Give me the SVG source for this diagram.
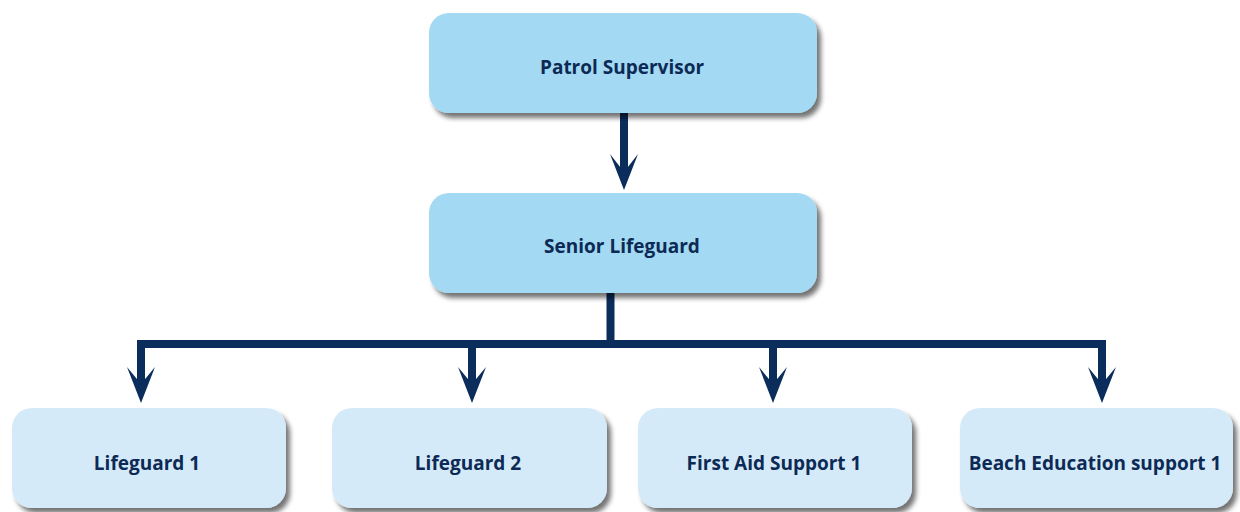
<svg xmlns="http://www.w3.org/2000/svg" width="1240" height="512" viewBox="0 0 1240 512">
<defs>
<filter id="sh" x="-10%" y="-20%" width="125%" height="150%">
<feGaussianBlur in="SourceAlpha" stdDeviation="2.5"/>
<feOffset dx="4" dy="5" result="b"/>
<feComponentTransfer><feFuncA type="linear" slope="0.55"/></feComponentTransfer>
<feMerge><feMergeNode/><feMergeNode in="SourceGraphic"/></feMerge>
</filter>
</defs>
<style>
.top{fill:#a3d9f2;filter:url(#sh)}
.bot{fill:#d5eaf8;filter:url(#sh)}
.t{font-family:"Open Sans","Noto Sans",sans-serif;font-weight:bold;font-size:19px;fill:#0c2a55;text-anchor:middle}
.ln{stroke:#0b2d5c;stroke-width:8;fill:none}
.ah{fill:#0b2d5c}
</style>
<rect width="1240" height="512" fill="#ffffff"/>
<g id="connectors">
<line class="ln" x1="624" y1="113" x2="624" y2="172"/>
<polygon class="ah" points="624,190 610,154 624,172 638,154"/>
<line class="ln" x1="610.5" y1="293" x2="610.5" y2="344"/>
<polyline class="ln" points="141,384 141,344 1102,344 1102,384"/>
<line class="ln" x1="472" y1="344" x2="472" y2="384"/>
<line class="ln" x1="773" y1="344" x2="773" y2="384"/>
<polygon class="ah" points="141,403 127,367 141,384 155,367"/>
<polygon class="ah" points="472,403 458,367 472,384 486,367"/>
<polygon class="ah" points="773,403 759,367 773,384 787,367"/>
<polygon class="ah" points="1102,403 1088,367 1102,384 1116,367"/>
</g>
<g id="patrol-supervisor">
<rect class="top" x="429" y="13" width="388" height="100" rx="20"/>
<text class="t" x="622" y="74">Patrol Supervisor</text>
</g>
<g id="senior-lifeguard">
<rect class="top" x="429" y="193" width="388" height="100" rx="20"/>
<text class="t" x="622" y="253">Senior Lifeguard</text>
</g>
<g id="lifeguard-1">
<rect class="bot" x="12" y="408" width="274" height="100" rx="20"/>
<text class="t" x="147" y="470">Lifeguard 1</text>
</g>
<g id="lifeguard-2">
<rect class="bot" x="332" y="408" width="275" height="100" rx="20"/>
<text class="t" x="468" y="470">Lifeguard 2</text>
</g>
<g id="first-aid-support-1">
<rect class="bot" x="638" y="408" width="274" height="100" rx="20"/>
<text class="t" x="774" y="470">First Aid Support 1</text>
</g>
<g id="beach-education-support-1">
<rect class="bot" x="960" y="408" width="273" height="100" rx="20"/>
<text class="t" x="1095" y="470">Beach Education support 1</text>
</g>
</svg>
